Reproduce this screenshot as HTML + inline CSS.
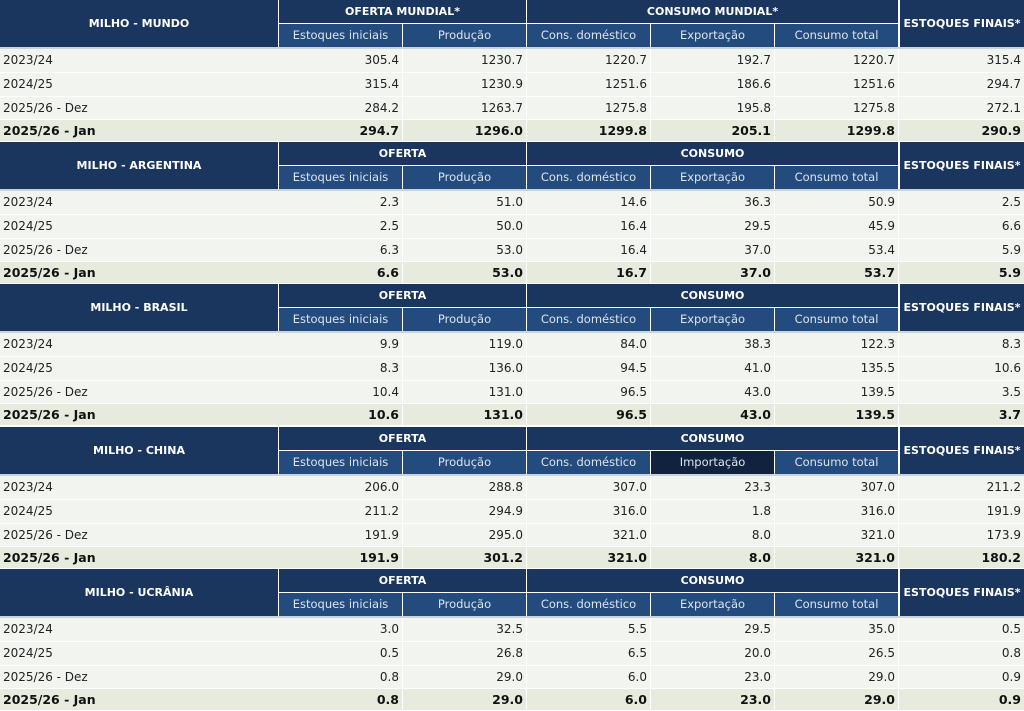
<!DOCTYPE html>
<html><head><meta charset="utf-8">
<style>
body{margin:0;width:1024px;height:711px;background:#fff;overflow:hidden;font-family:"DejaVu Sans","Liberation Sans",sans-serif;}
#t{position:relative;width:1024px;height:711px;}
.c{position:absolute;box-sizing:border-box;white-space:nowrap;overflow:hidden;}
.h{background:#1a355e;color:#fff;font-weight:bold;font-size:11px;text-align:center;}
.s{background:#234b7d;color:#dce4ee;font-size:11.5px;text-align:center;}
.s.dark{background:#10223e;}
.d{background:#f2f4ef;color:#222;font-size:12px;}
.b{background:#e7ebde;color:#111;font-size:12.5px;font-weight:bold;}
.r{text-align:right;padding-right:3px;}
.l{text-align:left;padding-left:3px;}
.ln{background:#c9d3dd;}
</style></head><body>
<div id="t"></div>
<script>
const regions = ["MILHO - MUNDO","MILHO - ARGENTINA","MILHO - BRASIL","MILHO - CHINA","MILHO - UCRÂNIA"];
const supplyTitles = ["OFERTA MUNDIAL*","OFERTA","OFERTA","OFERTA","OFERTA"];
const consTitles = ["CONSUMO MUNDIAL*","CONSUMO","CONSUMO","CONSUMO","CONSUMO"];
const fourthCol = ["Exportação","Exportação","Exportação","Importação","Exportação"];
const periods = ["2023/24","2024/25","2025/26 - Dez","2025/26 - Jan"];
const valsMundo = [[305.4,1230.7,1220.7,192.7,1220.7,315.4],[315.4,1230.9,1251.6,186.6,1251.6,294.7],[284.2,1263.7,1275.8,195.8,1275.8,272.1],[294.7,1296.0,1299.8,205.1,1299.8,290.9]];
const valsArgentina = [[2.3,51.0,14.6,36.3,50.9,2.5],[2.5,50.0,16.4,29.5,45.9,6.6],[6.3,53.0,16.4,37.0,53.4,5.9],[6.6,53.0,16.7,37.0,53.7,5.9]];
const valsBrasil = [[9.9,119.0,84.0,38.3,122.3,8.3],[8.3,136.0,94.5,41.0,135.5,10.6],[10.4,131.0,96.5,43.0,139.5,3.5],[10.6,131.0,96.5,43.0,139.5,3.7]];
const valsChina = [[206.0,288.8,307.0,23.3,307.0,211.2],[211.2,294.9,316.0,1.8,316.0,191.9],[191.9,295.0,321.0,8.0,321.0,173.9],[191.9,301.2,321.0,8.0,321.0,180.2]];
const valsUcrania = [[3.0,32.5,5.5,29.5,35.0,0.5],[0.5,26.8,6.5,20.0,26.5,0.8],[0.8,29.0,6.0,23.0,29.0,0.9],[0.8,29.0,6.0,23.0,29.0,0.9]];
const allVals = [valsMundo,valsArgentina,valsBrasil,valsChina,valsUcrania];

const T = document.getElementById('t');
const xs = [0,279,403,527,651,775,899,1024];
function cell(cls,x,y,w,h,txt,name){
  const e=document.createElement('div');
  e.className='c '+cls;
  e.style.left=x+'px';e.style.top=y+'px';e.style.width=w+'px';e.style.height=h+'px';
  e.style.lineHeight=h+'px';
  e.textContent=txt;
  
  
  T.appendChild(e);return e;
}
regions.forEach((reg,k)=>{
  const y0=Math.round(k*142.2);
  const slug=reg.toLowerCase().replace(/[^a-z]+/g,'-');
  cell('h',0,y0,278,47,reg,slug+'-title');
  cell('h',279,y0,247,23,supplyTitles[k],slug+'-supply-header');
  cell('h',527,y0,371,23,consTitles[k],slug+'-consumption-header');
  cell('h',900,y0,124,47,'ESTOQUES FINAIS*',slug+'-ending-stocks-header');
  cell('ln',0,y0+47,1024,2,'',slug+'-header-rule');
  const subs=['Estoques iniciais','Produção','Cons. doméstico',fourthCol[k],'Consumo total'];
  subs.forEach((s,i)=>{
    cell('s'+(k===3&&i===3?' dark':''),xs[i+1],y0+24,xs[i+2]-xs[i+1]-1,23,s,slug+'-subheader-'+i);
  });
  const rowTops=[49,73,97,120];
  periods.forEach((p,r)=>{
    const y=y0+rowTops[r];
    const h=(r===3?142:rowTops[r+1])-rowTops[r]-1;
    const cls=r===3?'b':'d';
    cell(cls+' l',0,y,279,h,p,slug+'-period-'+r);
    allVals[k][r].forEach((v,i)=>{
      cell(cls+' r',xs[i+1],y,xs[i+2]-xs[i+1]-(i<5?1:0),h,v.toFixed(1),slug+'-value-'+r+'-'+i);
    });
  });
});
</script>
</body></html>
